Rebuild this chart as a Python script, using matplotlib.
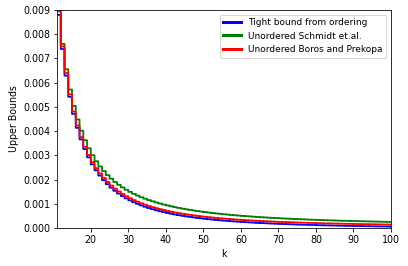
import numpy as np
import matplotlib
matplotlib.use("Agg")
import matplotlib.pyplot as plt

k = list(range(11, 101))

# values in units of 1e-4
tight = [88.0, 73.9, 62.9, 54.15, 47.1, 41.35, 36.57, 32.57, 29.18, 26.29,
         23.8, 21.64, 19.76, 18.1, 16.65, 15.35, 14.2, 13.17, 12.24, 11.41,
         10.65, 9.97, 9.34, 8.77, 8.25, 7.77, 7.33, 6.93, 6.55, 6.2,
         5.88, 5.58, 5.3, 5.04, 4.8, 4.57, 4.36, 4.16, 3.97, 3.79,
         3.63, 3.47, 3.32, 3.18, 3.05, 2.93, 2.81, 2.69, 2.59, 2.49,
         2.39, 2.3, 2.21, 2.12, 2.04, 1.97, 1.9, 1.83, 1.76, 1.7,
         1.63, 1.58, 1.52, 1.47, 1.41, 1.36, 1.32, 1.27, 1.23, 1.18,
         1.14, 1.1, 1.06, 1.03, 0.99, 0.96, 0.92, 0.89, 0.86, 0.83,
         0.8, 0.78, 0.75, 0.72, 0.7, 0.67, 0.65, 0.63, 0.6, 0.58]

schmidt = [89.8, 76.01, 65.54, 57.18, 50.41, 44.83, 40.17, 36.26, 32.92, 30.05,
           27.57, 25.40, 23.50, 21.82, 20.33, 19.00, 17.82, 16.75, 15.78, 14.91,
           14.10, 13.38, 12.71, 12.10, 11.54, 11.02, 10.54, 10.10, 9.68, 9.30,
           8.94, 8.60, 8.29, 7.99, 7.72, 7.46, 7.21, 6.99, 6.77, 6.56,
           6.37, 6.18, 6.01, 5.84, 5.68, 5.54, 5.39, 5.24, 5.13, 4.99,
           4.88, 4.77, 4.66, 4.54, 4.44, 4.36, 4.27, 4.18, 4.09, 4.01,
           3.92, 3.86, 3.79, 3.71, 3.64, 3.58, 3.52, 3.46, 3.40, 3.34,
           3.28, 3.23, 3.17, 3.13, 3.08, 3.03, 2.98, 2.94, 2.90, 2.86,
           2.81, 2.79, 2.74, 2.70, 2.67, 2.63, 2.60, 2.56, 2.53, 2.50]

boros = [89.5, 75.0, 63.95, 55.17, 48.1, 42.32, 37.53, 33.51, 30.11, 27.21,
         24.71, 22.54, 20.65, 18.99, 17.53, 16.23, 15.07, 14.04, 13.11, 12.27,
         11.51, 10.83, 10.2, 9.62, 9.1, 8.62, 8.18, 7.78, 7.4, 7.04,
         6.72, 6.42, 6.14, 5.88, 5.64, 5.41, 5.2, 5.0, 4.81, 4.63,
         4.47, 4.3, 4.15, 4.01, 3.88, 3.76, 3.64, 3.52, 3.42, 3.32,
         3.22, 3.13, 3.04, 2.95, 2.87, 2.8, 2.73, 2.66, 2.59, 2.53,
         2.46, 2.41, 2.35, 2.3, 2.24, 2.19, 2.15, 2.1, 2.06, 2.01,
         1.97, 1.93, 1.89, 1.86, 1.82, 1.79, 1.75, 1.72, 1.69, 1.66,
         1.63, 1.61, 1.58, 1.55, 1.53, 1.5, 1.48, 1.46, 1.43, 1.41]

labels = ["Tight bound from ordering", "Unordered Schmidt et.al.",
          "Unordered Boros and Prekopa"]
colors = ["blue", "green", "red"]
scale = 1e-4

DPI = 72
fig = plt.figure(figsize=(408 / DPI, 266 / DPI), dpi=DPI)
ax = fig.add_axes([57 / 408, 1 - 228 / 266, (391 - 57) / 408, (228 - 10) / 266])

kk = np.array(k)
for series, lab, col in zip([tight, schmidt, boros], labels, colors):
    ax.step(kk, np.array(series) * scale, where="post", color=col, lw=1.8,
            label=lab, snap=False)

ax.set_xlim(11, 100)
ax.set_ylim(0, 0.009)
ax.set_xticks([20, 30, 40, 50, 60, 70, 80, 90, 100])
ax.set_yticks(np.arange(0, 0.0091, 0.001))
ax.set_yticklabels([f"{v:.3f}" for v in np.arange(0, 0.0091, 0.001)])
ax.tick_params(labelsize=9.5)
ax.set_xlabel("k", fontsize=9.5)
ax.set_ylabel("Upper Bounds", fontsize=9.5)
leg = ax.legend(loc="upper right", fontsize=9)
for h in leg.get_lines():
    h.set_linewidth(3)

fig.savefig("out.png", dpi=DPI)
